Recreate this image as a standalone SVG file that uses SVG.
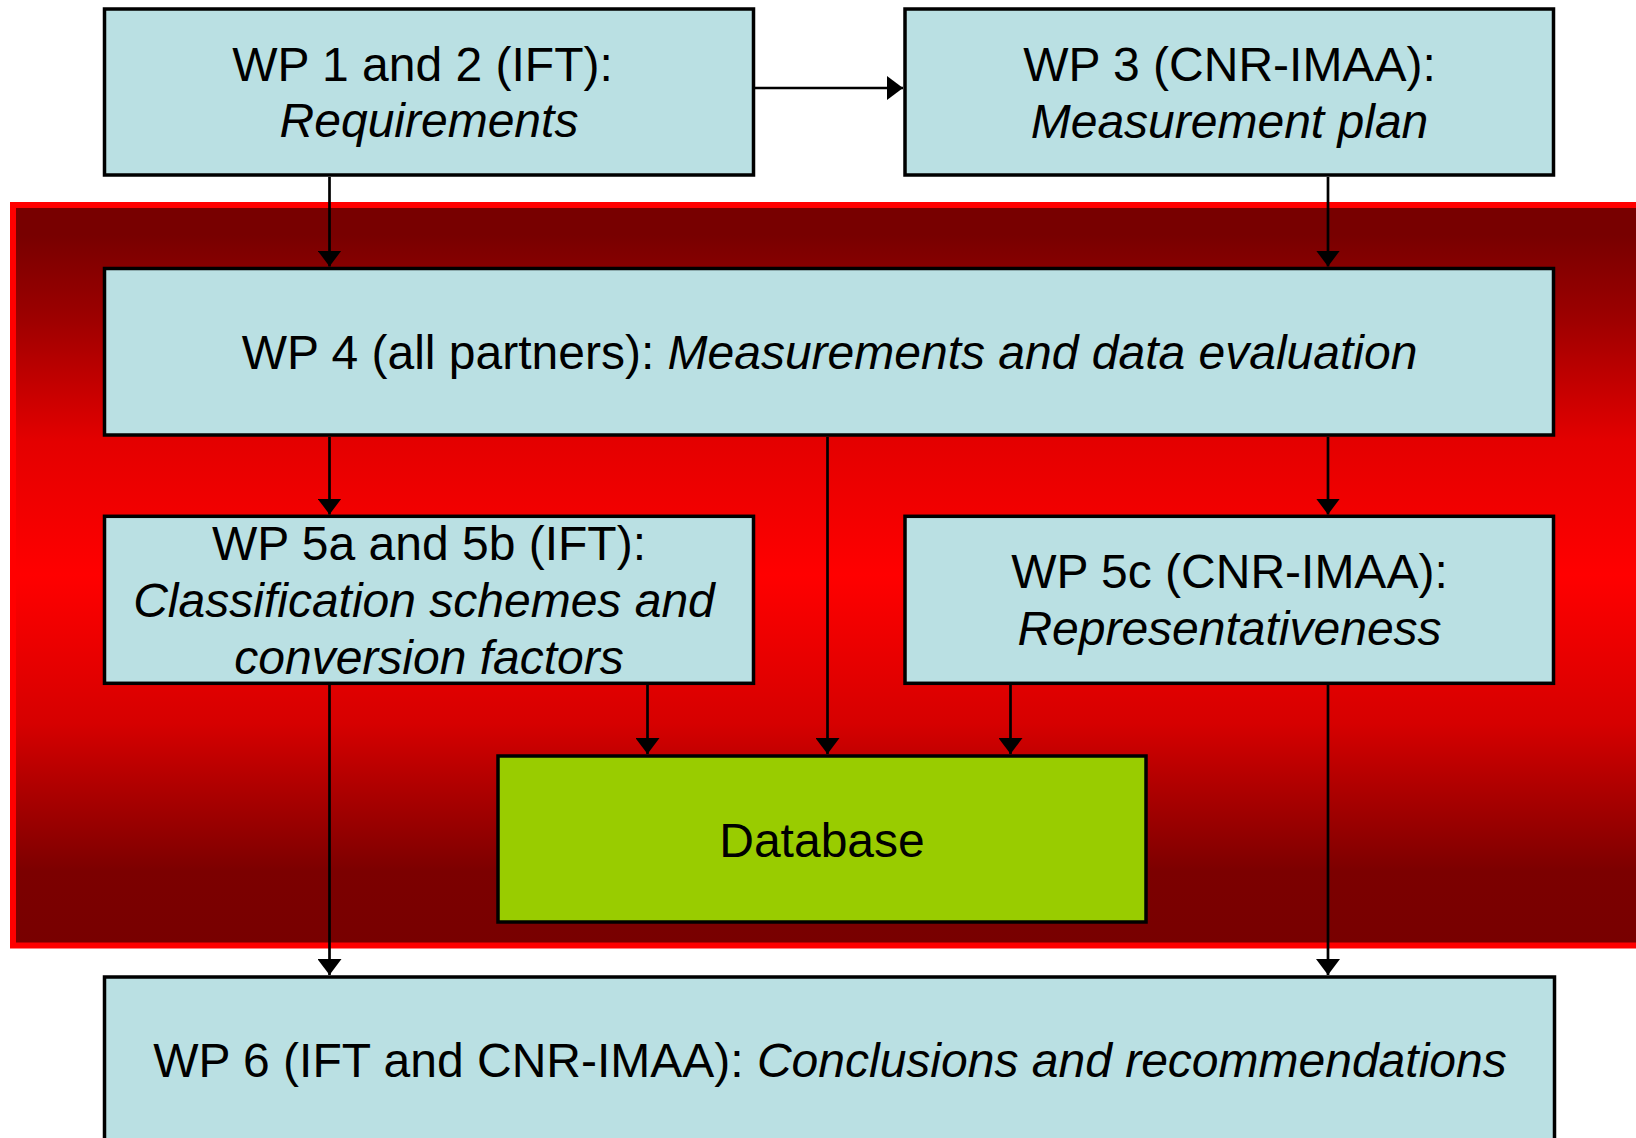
<svg xmlns="http://www.w3.org/2000/svg" width="1636" height="1138" viewBox="0 0 1636 1138">
  <defs>
    <linearGradient id="redBand" x1="0" y1="0" x2="0" y2="1">
      <stop offset="0" stop-color="#780000"/>
      <stop offset="0.04" stop-color="#780000"/>
      <stop offset="0.15" stop-color="#9c0000"/>
      <stop offset="0.32" stop-color="#e40000"/>
      <stop offset="0.5" stop-color="#ff0000"/>
      <stop offset="0.7" stop-color="#d60000"/>
      <stop offset="0.9" stop-color="#7c0000"/>
      <stop offset="1" stop-color="#780000"/>
    </linearGradient>
    <marker id="arrow" viewBox="0 0 16 24" refX="16" refY="12" markerWidth="16" markerHeight="24" markerUnits="userSpaceOnUse" orient="auto">
      <path d="M0,0 L16,12 L0,24 z" fill="#000"/>
    </marker>
  </defs>
  <style>
    .box { fill: #bae0e3; stroke: #000; stroke-width: 3.5; }
    .db { fill: #99cc00; stroke: #000; stroke-width: 3.5; }
    .lbl { font-family: "Liberation Sans", Arial, sans-serif; font-size: 48px; fill: #000; text-anchor: middle; }
    .it { font-style: italic; }
    .conn { fill: none; stroke: #000; stroke-width: 2.7; marker-end: url(#arrow); }
  </style>

  <rect width="1636" height="1138" fill="#fff"/>

  <!-- red band behind the WP 4 / WP 5 work packages -->
  <rect id="band" x="13" y="205" width="1640" height="740.5" fill="url(#redBand)" stroke="#ff0000" stroke-width="6"/>

  <g id="connectors">
    <line class="conn" x1="755" y1="88" x2="903" y2="88"/>
    <line class="conn" x1="329.5" y1="177" x2="329.5" y2="266.5"/>
    <line class="conn" x1="1328" y1="177" x2="1328" y2="266.5"/>
    <line class="conn" x1="329.5" y1="437" x2="329.5" y2="514.5"/>
    <line class="conn" x1="1328" y1="437" x2="1328" y2="514.5"/>
    <line class="conn" x1="827.5" y1="437" x2="827.5" y2="754"/>
    <line class="conn" x1="647.5" y1="685" x2="647.5" y2="754"/>
    <line class="conn" x1="1010.5" y1="685" x2="1010.5" y2="754"/>
    <line class="conn" x1="329.5" y1="685" x2="329.5" y2="975"/>
    <line class="conn" x1="1328" y1="685" x2="1328" y2="975"/>
  </g>

  <g id="wp12">
    <rect class="box" x="104.5" y="9" width="649" height="166"/>
    <text class="lbl" x="422.5" y="81">WP 1 and 2 (IFT):</text>
    <text class="lbl it" x="429" y="137">Requirements</text>
  </g>

  <g id="wp3">
    <rect class="box" x="905" y="9" width="648.5" height="166"/>
    <text class="lbl" x="1229.5" y="81">WP 3 (CNR-IMAA):</text>
    <text class="lbl it" x="1229.5" y="138">Measurement plan</text>
  </g>

  <g id="wp4">
    <rect class="box" x="104.5" y="268.5" width="1449" height="166.5"/>
    <text class="lbl" x="829.5" y="369">WP 4 (all partners): <tspan class="it">Measurements and data evaluation</tspan></text>
  </g>

  <g id="wp5ab">
    <rect class="box" x="104.5" y="516.3" width="649" height="167"/>
    <text class="lbl" x="429" y="560">WP 5a and 5b (IFT):</text>
    <text class="lbl it" x="424" y="617">Classification schemes and</text>
    <text class="lbl it" x="429" y="674">conversion factors</text>
  </g>

  <g id="wp5c">
    <rect class="box" x="905" y="516.3" width="648.5" height="167"/>
    <text class="lbl" x="1229.5" y="588">WP 5c (CNR-IMAA):</text>
    <text class="lbl it" x="1229.5" y="645">Representativeness</text>
  </g>

  <g id="database">
    <rect class="db" x="498" y="756" width="648" height="166"/>
    <text class="lbl" x="822" y="857">Database</text>
  </g>

  <g id="wp6">
    <rect class="box" x="104.5" y="977" width="1450" height="200"/>
    <text class="lbl" x="830" y="1077">WP 6 (IFT and CNR-IMAA): <tspan class="it">Conclusions and recommendations</tspan></text>
  </g>
</svg>
